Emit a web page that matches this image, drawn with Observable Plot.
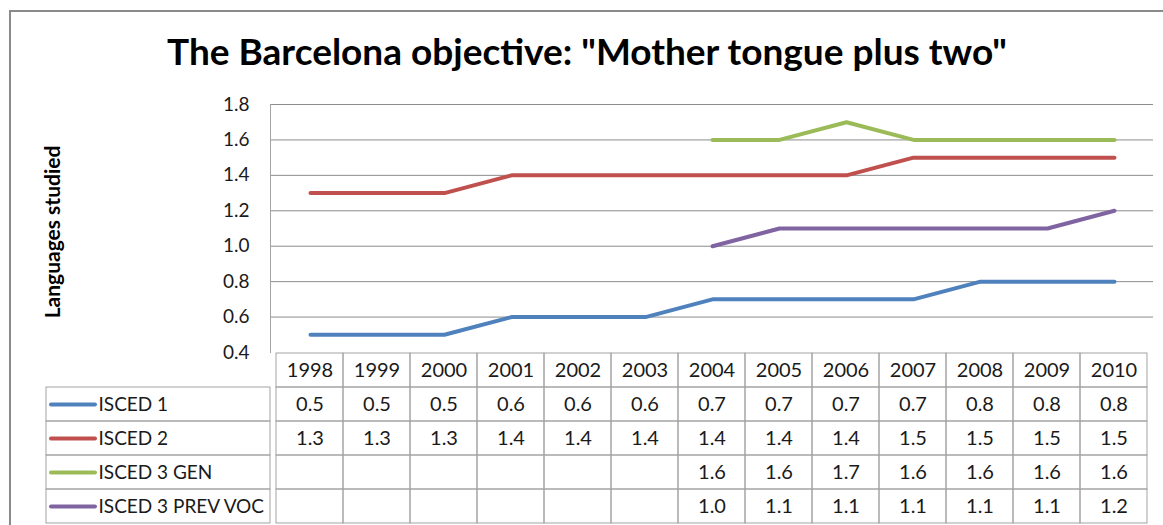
<!DOCTYPE html>
<html><head><meta charset="utf-8">
<script src="https://cdn.jsdelivr.net/npm/d3@7"></script>
<script src="https://cdn.jsdelivr.net/npm/@observablehq/plot@0.6"></script>
<style>
body{margin:0;background:#fff;}
#wrap{position:relative;width:1163px;height:525px;overflow:hidden;background:#fff;font-family:Lato,sans-serif;}
#border{position:absolute;left:9px;top:10px;width:1200px;height:600px;border:2px solid #8a8a8a;box-sizing:border-box;}
#title{position:absolute;left:9px;width:1156px;top:29px;text-align:center;font-weight:bold;font-size:37px;line-height:44px;color:#000;}
#ylab{position:absolute;left:51px;top:232px;transform:translate(-50%,-50%) rotate(-90deg);font-weight:bold;font-size:21px;white-space:nowrap;color:#000;}
.plot{position:absolute;left:0;}
</style></head><body>
<div id="wrap">
 <div id="border"></div>
 <div id="title">The Barcelona objective: "Mother tongue plus two"</div>
 <div id="ylab">Languages studied</div>
 <div id="chart" class="plot" style="top:0"></div>
 <div id="table" class="plot" style="top:352px"></div>
</div>
<script>
const years = [1998,1999,2000,2001,2002,2003,2004,2005,2006,2007,2008,2009,2010];
const seriesNames = ["ISCED 1","ISCED 2","ISCED 3 GEN","ISCED 3 PREV VOC"];
const isced1 = [0.5,0.5,0.5,0.6,0.6,0.6,0.7,0.7,0.7,0.7,0.8,0.8,0.8];
const isced2 = [1.3,1.3,1.3,1.4,1.4,1.4,1.4,1.4,1.4,1.5,1.5,1.5,1.5];
const isced3gen = [null,null,null,null,null,null,1.6,1.6,1.7,1.6,1.6,1.6,1.6];
const isced3voc = [null,null,null,null,null,null,1.0,1.1,1.1,1.1,1.1,1.1,1.2];
const seriesColors = ["#4F81BD","#C0504D","#9BBB59","#8064A2"];
const yTicks = [0.4,0.6,0.8,1.0,1.2,1.4,1.6,1.8];

const seriesValues = [isced1, isced2, isced3gen, isced3voc];
const data = [];
seriesNames.forEach((s, i) => years.forEach((yr, j) => {
  data.push({series: s, year: yr, value: seriesValues[i][j]});
}));

const font = "Lato, sans-serif";
const gridColor = "#8c8c8c";
const tableColor = "#a3a3a3";

const chart = Plot.plot({
  width: 1163, height: 360,
  marginLeft: 270, marginRight: 10, marginTop: 104, marginBottom: 8,
  style: {fontFamily: font, background: "transparent", overflow: "visible"},
  x: {type: "point", domain: years, padding: 0.5, align: 0.5, axis: null},
  y: {domain: [0.4, 1.8], axis: null},
  color: {domain: seriesNames, range: seriesColors},
  marks: [
    Plot.ruleY(yTicks.slice(1), {stroke: gridColor, strokeWidth: 1}),
    Plot.frame({anchor: "left", stroke: tableColor}),
    Plot.axisY({ticks: yTicks, tickSize: 0, tickPadding: 21, tickFormat: d3.format(".1f"), fontSize: 19, fill: "#1a1a1a", label: null}),
    Plot.line(data, {x: "year", y: "value", stroke: "series", z: "series", strokeWidth: 4, strokeLinecap: "round", strokeLinejoin: "round"})
  ]
});
document.getElementById("chart").appendChild(chart);

const rows = ["header", ...seriesNames];
const cells = years.map(yr => ({row: "header", year: yr, label: String(yr)}));
seriesNames.forEach((s, i) => years.forEach((yr, j) => {
  const v = seriesValues[i][j];
  cells.push({row: s, year: yr, label: v == null ? "" : d3.format(".1f")(v)});
}));

const table = Plot.plot({
  width: 1163, height: 173,
  marginLeft: 270, marginRight: 10, marginTop: 0, marginBottom: 2,
  style: {fontFamily: font, background: "transparent", overflow: "visible"},
  x: {type: "band", domain: years, padding: 0, axis: null},
  y: {type: "band", domain: rows, padding: 0, axis: null},
  color: {domain: seriesNames, range: seriesColors},
  marks: [
    Plot.cell(cells, {x: "year", y: "row", fill: "none", stroke: tableColor}),
    Plot.cell(seriesNames, {y: d => d, fill: "none", stroke: tableColor, insetLeft: -224, insetRight: 883}),
    Plot.ruleY(seriesNames, {y: d => d, stroke: d => d, strokeWidth: 4, strokeLinecap: "round", insetLeft: -219, insetRight: 1058}),
    Plot.text(seriesNames, {y: d => d, text: d => d, frameAnchor: "left", textAnchor: "start", dx: -172, fontSize: 19, fill: "#1a1a1a"}),
    Plot.text(cells, {x: "year", y: "row", text: "label", fontSize: 20, fill: "#1a1a1a"})
  ]
});
document.getElementById("table").appendChild(table);
</script>
</body></html>
